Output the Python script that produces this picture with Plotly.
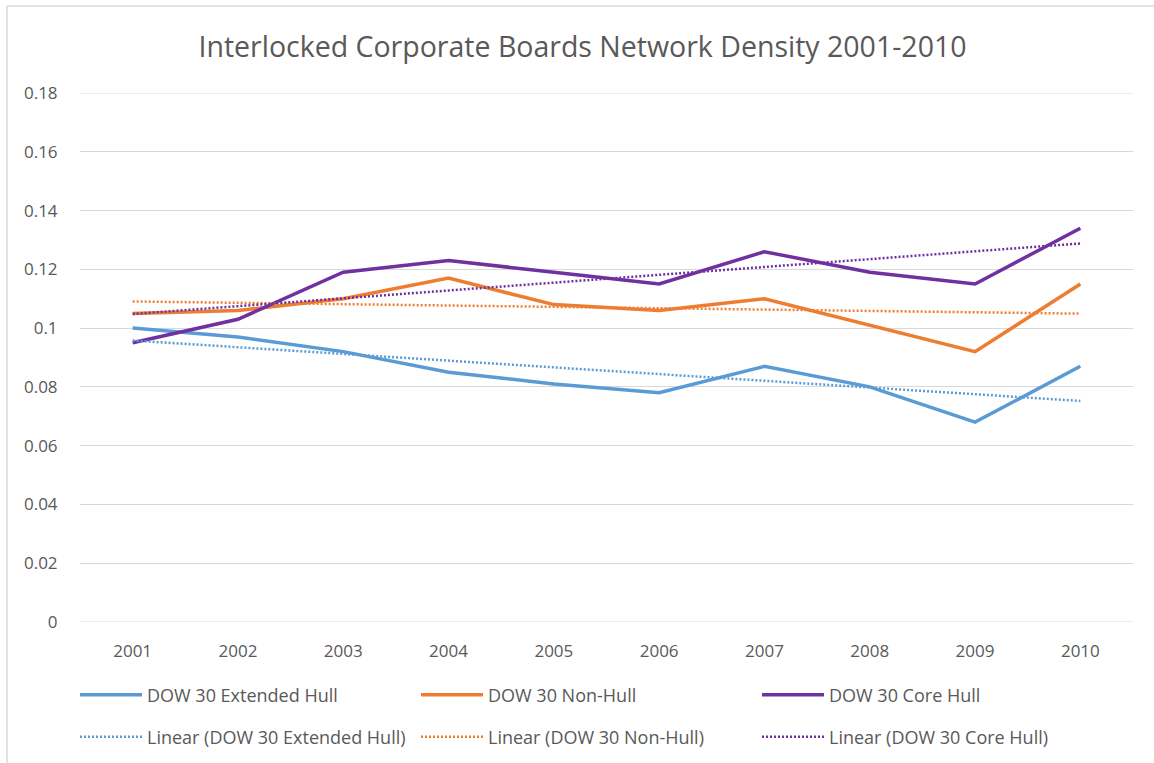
import numpy as np
import plotly.graph_objects as go

years = ["2001", "2002", "2003", "2004", "2005", "2006", "2007", "2008", "2009", "2010"]
extended_hull = [0.100, 0.097, 0.092, 0.085, 0.081, 0.078, 0.087, 0.080, 0.068, 0.087]
non_hull = [0.105, 0.106, 0.110, 0.117, 0.108, 0.106, 0.110, 0.101, 0.092, 0.115]
core_hull = [0.095, 0.103, 0.119, 0.123, 0.119, 0.115, 0.126, 0.119, 0.115, 0.134]
y_ticks = [0, 0.02, 0.04, 0.06, 0.08, 0.1, 0.12, 0.14, 0.16, 0.18]
y_tick_text = ["0", "0.02", "0.04", "0.06", "0.08", "0.1", "0.12", "0.14", "0.16", "0.18"]

series = [
    ("DOW 30 Extended Hull", extended_hull, "#5B9BD5"),
    ("DOW 30 Non-Hull", non_hull, "#ED7D31"),
    ("DOW 30 Core Hull", core_hull, "#7030A0"),
]

FONT = "Open Sans"
GRAY = "#595959"
GRID = "#D9D9D9"

fig = go.Figure()
for name, vals, color in series:
    fig.add_trace(go.Scatter(
        x=years, y=vals, mode="lines", name=name, legend="legend",
        line=dict(color=color, width=3.5),
    ))

# least-squares linear trendlines over the year index
idx = np.arange(len(years))
for name, vals, color in series:
    slope, intercept = np.polyfit(idx, vals, 1)
    fig.add_trace(go.Scatter(
        x=years, y=slope * idx + intercept, mode="lines",
        name=f"Linear ({name})", legend="legend2",
        line=dict(color=color, width=2.5, dash="2px,2px"),
    ))

W, H = 1154, 763
ml, mr, mt, mb = 80, 21, 93, 141
pw, ph = W - ml - mr, H - mt - mb


def legend_row(y_px):
    return dict(
        orientation="h", x=(75 - ml) / pw, xanchor="left",
        y=(H - mb - y_px) / ph, yanchor="middle",
        entrywidth=264, entrywidthmode="pixels",
        font=dict(family=FONT, size=18, color=GRAY),
        itemwidth=62, bgcolor="rgba(0,0,0,0)",
    )


# gridlines at the two ends of the value axis
edge_grid = [
    dict(type="line", xref="paper", yref="y", x0=0, x1=1, y0=v, y1=v,
         layer="below", line=dict(color=GRID, width=1))
    for v in (y_ticks[0], y_ticks[-1])
]

# chart-area frame (top and left edges)
frame = [
    dict(type="line", xref="paper", yref="paper",
         x0=(7 - ml) / pw, x1=(W - ml) / pw,
         y0=1 + (mt - 6) / ph, y1=1 + (mt - 6) / ph,
         line=dict(color=GRID, width=1.5)),
    dict(type="line", xref="paper", yref="paper",
         x0=(7 - ml) / pw, x1=(7 - ml) / pw,
         y0=1 + (mt - 6) / ph, y1=-(H - mt - ph) / ph,
         line=dict(color=GRID, width=1.5)),
]

fig.update_layout(
    width=W, height=H,
    margin=dict(l=ml, r=mr, t=mt, b=mb, autoexpand=False),
    paper_bgcolor="white", plot_bgcolor="white",
    font=dict(family=FONT, color=GRAY, size=16),
    title=dict(
        text="Interlocked Corporate Boards Network Density 2001-2010",
        x=582.5 / W, xref="container", y=1 - 47 / H, yref="container",
        xanchor="center", yanchor="middle",
        font=dict(family=FONT, size=28.5, color=GRAY),
    ),
    showlegend=True,
    legend=legend_row(695),
    legend2=legend_row(737),
    xaxis=dict(
        type="category", range=[-0.5, 9.5],
        showgrid=False, showline=False, zeroline=False,
        ticks="outside", ticklen=14, tickcolor="rgba(0,0,0,0)",
        tickfont=dict(family=FONT, size=17, color=GRAY),
    ),
    yaxis=dict(
        range=[0, 0.18], tickvals=y_ticks, ticktext=y_tick_text,
        showgrid=True, gridcolor=GRID, gridwidth=1,
        zeroline=False, showline=False,
        ticks="outside", ticklen=18, tickcolor="rgba(0,0,0,0)",
        tickfont=dict(family=FONT, size=17, color=GRAY),
    ),
    shapes=edge_grid + frame,
)

fig.write_html("out.html")
